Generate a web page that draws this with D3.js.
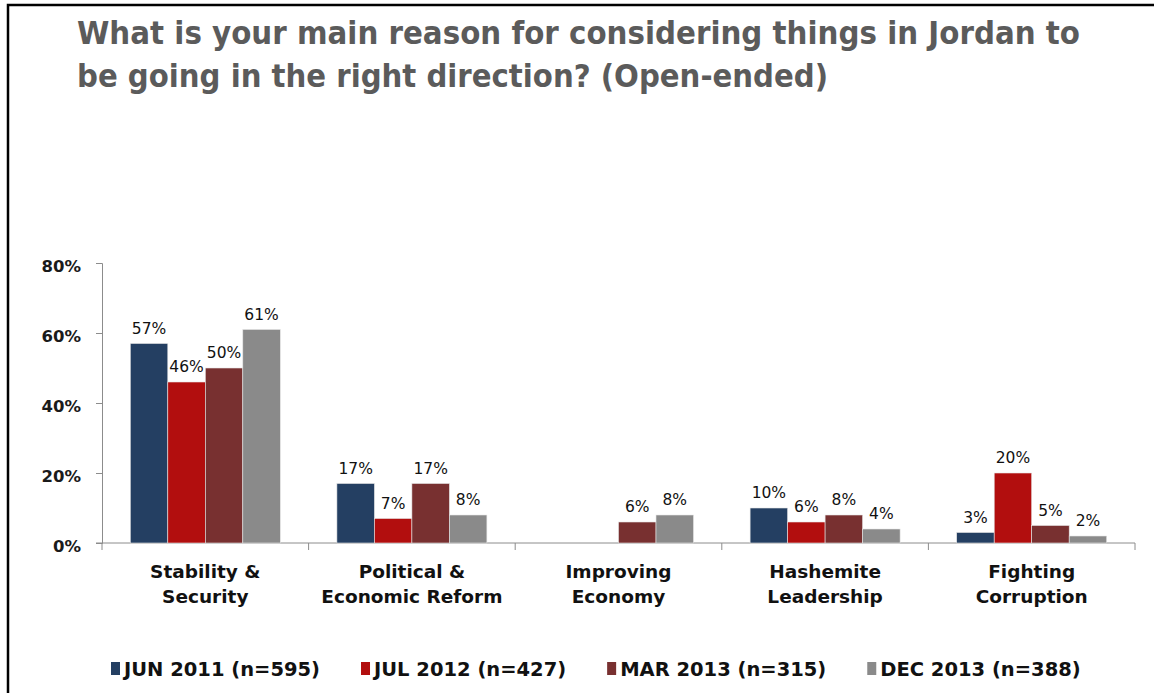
<!DOCTYPE html>
<html>
<head>
<meta charset="utf-8">
<script src="https://cdn.jsdelivr.net/npm/d3@7"></script>
<style>
    body { margin: 0; background: #fff; }
    svg { display: block; }
    text { font-family: "DejaVu Sans", Verdana, sans-serif; }
</style>
</head>
<body>
<div id="chart"></div>
<script>
const titleLines = [
    "What is your main reason for considering things in Jordan to",
    "be going in the right direction? (Open-ended)"
]
const categories = [
    ["Stability &", "Security"],
    ["Political &", "Economic Reform"],
    ["Improving", "Economy"],
    ["Hashemite", "Leadership"],
    ["Fighting", "Corruption"]
]
const seriesNames = ["JUN 2011 (n=595)", "JUL 2012 (n=427)", "MAR 2013 (n=315)", "DEC 2013 (n=388)"]
const seriesColors = ["#243F62", "#B20E0E", "#783030", "#8A8A8A"]
const jun2011 = [57, 17, null, 10, 3]
const jul2012 = [46, 7, null, 6, 20]
const mar2013 = [50, 17, 6, 8, 5]
const dec2013 = [61, 8, 8, 4, 2]
const yTicks = [0, 20, 40, 60, 80]

const series = [jun2011, jul2012, mar2013, dec2013]
const width = 1154, height = 693
const plot = { left: 102, right: 1135, top: 263, bottom: 543 }

const svg = d3.select("#chart").append("svg")
    .attr("width", width)
    .attr("height", height)

// frame of the slide
svg.append("path")
    .attr("d", `M8,${height} V5 H${width}`)
    .attr("fill", "none")
    .attr("stroke", "#000")
    .attr("stroke-width", 2.5)

// title font is narrower than DejaVu: fit it to the width and stretch it up a bit
const titleWidths = [1003, 751]
const titles = svg.append("g").selectAll("g").data(titleLines).enter().append("g")
    .attr("transform", (d, i) => `translate(77,${44 + i * 43}) scale(1,1.1)`)
titles.append("text")
    .attr("font-size", 29)
    .attr("font-weight", "bold")
    .attr("fill", "#5B5B5B")
    .attr("textLength", (d, i) => titleWidths[i])
    .attr("lengthAdjust", "spacingAndGlyphs")
    .text(d => d)

const x0 = d3.scaleBand()
    .domain(d3.range(categories.length))
    .range([plot.left, plot.right])
    .paddingInner(0.274)
    .paddingOuter(0.137)
const x1 = d3.scaleBand()
    .domain(d3.range(series.length))
    .range([0, x0.bandwidth()])
const y = d3.scaleLinear()
    .domain([0, 80])
    .range([plot.bottom, plot.top])

const axisColor = "#8C8C8C"
const yAxis = svg.append("g")
    .attr("transform", `translate(${plot.left},0)`)
    .call(d3.axisLeft(y).tickValues(yTicks).tickFormat(d => d + "%").tickSizeOuter(0).tickSize(6).tickPadding(15))
yAxis.select(".domain").attr("stroke", axisColor)
yAxis.selectAll(".tick line").attr("stroke", axisColor)
yAxis.selectAll(".tick text")
    .attr("font-size", 16.5)
    .attr("font-weight", "bold")
    .attr("fill", "#1A1A1A")
    .attr("font-family", "DejaVu Sans")
    .attr("dy", "0.5em")

const step = x0.step()
const boundaries = d3.range(categories.length + 1).map(i => plot.left + i * step)
const xAxis = svg.append("g")
xAxis.append("line")
    .attr("x1", plot.left - 6).attr("x2", plot.right)
    .attr("y1", plot.bottom).attr("y2", plot.bottom)
    .attr("stroke", axisColor)
xAxis.selectAll("line.tick").data(boundaries).enter().append("line")
    .classed("tick", true)
    .attr("x1", d => d).attr("x2", d => d)
    .attr("y1", plot.bottom).attr("y2", plot.bottom + 7)
    .attr("stroke", axisColor)

const catLabels = svg.append("g").selectAll("text").data(categories).enter().append("text")
    .attr("text-anchor", "middle")
    .attr("font-size", 18.5)
    .attr("font-weight", "bold")
    .attr("fill", "#111")
catLabels.selectAll("tspan").data((d, i) => d.map(t => ({ t, i }))).enter().append("tspan")
    .attr("x", d => x0(d.i) + x0.bandwidth() / 2)
    .attr("y", (d, j) => 578 + j * 25)
    .text(d => d.t)

const barData = []
series.forEach((vals, s) => vals.forEach((v, c) => {
    if (v != null) barData.push({ s, c, v })
}))

const bars = svg.append("g")
bars.selectAll("rect").data(barData).enter().append("rect")
    .attr("x", d => x0(d.c) + x1(d.s))
    .attr("y", d => y(d.v))
    .attr("width", x1.bandwidth())
    .attr("height", d => y(0) - y(d.v))
    .attr("fill", d => seriesColors[d.s])
    .attr("stroke", "#E6E6E6")
    .attr("stroke-width", 0.6)

bars.selectAll("text").data(barData).enter().append("text")
    .attr("x", d => x0(d.c) + x1(d.s) + x1.bandwidth() / 2)
    .attr("y", d => y(d.v) - 10)
    .attr("text-anchor", "middle")
    .attr("font-size", 15.5)
    .attr("fill", "#111")
    .text(d => d.v + "%")

const legend = svg.append("g").attr("transform", "translate(111,0)")
let lx = 0
seriesNames.forEach((name, i) => {
    const item = legend.append("g").attr("transform", `translate(${lx},0)`)
    item.append("rect")
        .attr("x", 0).attr("y", 662)
        .attr("width", 9).attr("height", 13)
        .attr("fill", seriesColors[i])
    const t = item.append("text")
        .attr("x", 13)
        .attr("y", 676)
        .attr("font-size", 19.5)
        .attr("font-weight", "bold")
        .attr("fill", "#111")
        .text(name)
    lx += 13 + t.node().getComputedTextLength() + 41
})
</script>
</body>
</html>
